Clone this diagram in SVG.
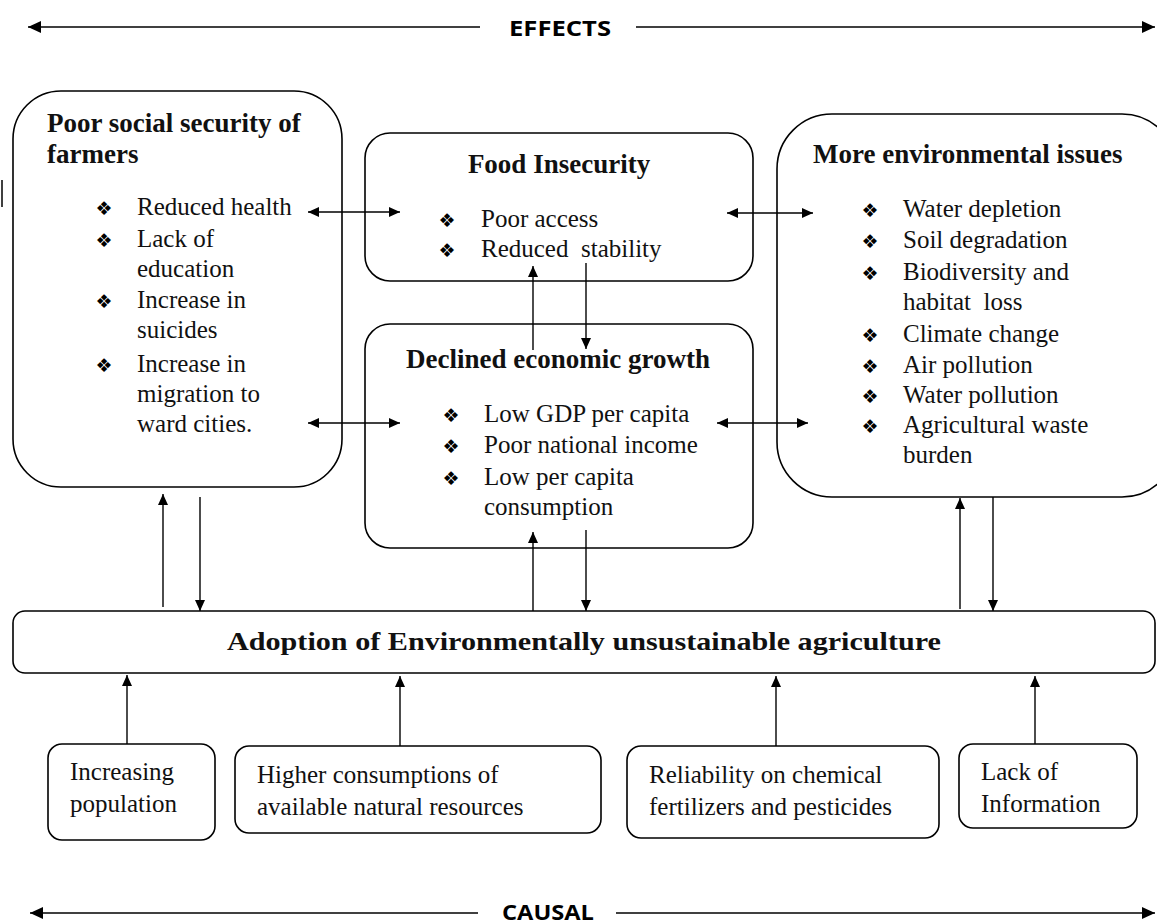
<svg xmlns="http://www.w3.org/2000/svg" width="1157" height="922" viewBox="0 0 1157 922">
<defs>
<marker id="ah" markerUnits="userSpaceOnUse" markerWidth="12" markerHeight="10" refX="11" refY="5" orient="auto-start-reverse"><path d="M0,0 L11,5 L0,10 z" fill="#000"/></marker>
<marker id="big" markerUnits="userSpaceOnUse" markerWidth="14" markerHeight="12" refX="13" refY="6" orient="auto-start-reverse"><path d="M0,0 L13,6 L0,12 z" fill="#000"/></marker>
<style>
.box{fill:#fff;stroke:#000;stroke-width:1.6}
.t{font-family:"Liberation Serif","Times New Roman",serif;font-size:25px;fill:#111}
.h{font-family:"Liberation Serif","Times New Roman",serif;font-size:27px;font-weight:bold;fill:#111}
.b{font-family:"DejaVu Sans",sans-serif;font-size:19px;fill:#000;text-anchor:middle}
.ax{font-family:"Open Sans","Liberation Sans",sans-serif;font-size:22px;font-weight:bold;fill:#000}
.c line{stroke:#000;stroke-width:1.4;fill:none}
.pre{white-space:pre}
</style>
</defs>
<rect width="1157" height="922" fill="#fff"/>
<g id="effects-axis">
<line x1="28" y1="27" x2="480" y2="27" stroke="#000" stroke-width="1.6" marker-start="url(#big)"/>
<line x1="636" y1="27" x2="1155" y2="27" stroke="#000" stroke-width="1.6" marker-end="url(#big)"/>
<text class="ax" x="509" y="36" textLength="102" lengthAdjust="spacingAndGlyphs">EFFECTS</text>
</g>
<line x1="2" y1="180" x2="2" y2="207" stroke="#000" stroke-width="1.5"/>
<g id="social">
<rect class="box" x="13" y="91" width="329" height="396" rx="48"/>
<text class="h" x="47" y="132">Poor social security of</text>
<text class="h" x="47" y="163">farmers</text>
<text class="b" x="104" y="215">❖</text><text class="t" x="137" y="215">Reduced health</text>
<text class="b" x="104" y="247">❖</text><text class="t" x="137" y="247">Lack of</text>
<text class="t" x="137" y="277">education</text>
<text class="b" x="104" y="308">❖</text><text class="t" x="137" y="308">Increase in</text>
<text class="t" x="137" y="338">suicides</text>
<text class="b" x="104" y="372">❖</text><text class="t" x="137" y="372">Increase in</text>
<text class="t" x="137" y="402">migration to</text>
<text class="t" x="137" y="432">ward cities.</text>
</g>
<g id="food">
<rect class="box" x="365" y="133" width="388" height="148" rx="25"/>
<text class="h" x="559" y="173" text-anchor="middle">Food Insecurity</text>
<text class="b" x="447" y="227">❖</text><text class="t" x="481" y="227">Poor access</text>
<text class="b" x="447" y="257">❖</text><text class="t pre" x="481" y="257">Reduced  stability</text>
</g>
<g id="economic">
<rect class="box" x="365" y="324" width="388" height="224" rx="25"/>
<text class="h" x="558" y="368" text-anchor="middle">Declined economic growth</text>
<text class="b" x="451" y="422">❖</text><text class="t" x="484" y="422">Low GDP per capita</text>
<text class="b" x="451" y="453">❖</text><text class="t" x="484" y="453">Poor national income</text>
<text class="b" x="451" y="485">❖</text><text class="t" x="484" y="485">Low per capita</text>
<text class="t" x="484" y="515">consumption</text>
</g>
<g id="environment">
<rect class="box" x="777" y="114" width="400" height="383" rx="55"/>
<text class="h" x="813" y="163">More environmental issues</text>
<text class="b" x="870" y="217">❖</text><text class="t" x="903" y="217">Water depletion</text>
<text class="b" x="870" y="248">❖</text><text class="t" x="903" y="248">Soil degradation</text>
<text class="b" x="870" y="280">❖</text><text class="t" x="903" y="280">Biodiversity and</text>
<text class="t pre" x="903" y="310">habitat  loss</text>
<text class="b" x="870" y="342">❖</text><text class="t" x="903" y="342">Climate change</text>
<text class="b" x="870" y="373">❖</text><text class="t" x="903" y="373">Air pollution</text>
<text class="b" x="870" y="403">❖</text><text class="t" x="903" y="403">Water pollution</text>
<text class="b" x="870" y="433">❖</text><text class="t" x="903" y="433">Agricultural waste</text>
<text class="t" x="903" y="463">burden</text>
</g>
<g id="adoption">
<rect class="box" x="13" y="611" width="1142" height="62" rx="12"/>
<text class="h" x="227" y="650" style="font-size:26px" textLength="714" lengthAdjust="spacingAndGlyphs">Adoption of Environmentally unsustainable agriculture</text>
</g>
<g id="population">
<rect class="box" x="48" y="744" width="167" height="96" rx="14"/>
<text class="t" x="70" y="780">Increasing</text>
<text class="t" x="70" y="812">population</text>
</g>
<g id="consumption">
<rect class="box" x="235" y="746" width="366" height="87" rx="14"/>
<text class="t" x="257" y="783">Higher consumptions of</text>
<text class="t" x="257" y="815">available natural resources</text>
</g>
<g id="chemicals">
<rect class="box" x="627" y="746" width="312" height="92" rx="14"/>
<text class="t" x="649" y="783">Reliability on chemical</text>
<text class="t" x="649" y="815">fertilizers and pesticides</text>
</g>
<g id="information">
<rect class="box" x="959" y="744" width="178" height="84" rx="14"/>
<text class="t" x="981" y="780">Lack of</text>
<text class="t" x="981" y="812">Information</text>
</g>
<g id="causal-axis">
<line x1="30" y1="913" x2="478" y2="913" stroke="#000" stroke-width="1.6" marker-start="url(#big)"/>
<line x1="616" y1="913" x2="1155" y2="913" stroke="#000" stroke-width="1.6" marker-end="url(#big)"/>
<text class="ax" x="502" y="920" textLength="92" lengthAdjust="spacingAndGlyphs">CAUSAL</text>
</g>
<g id="connectors" class="c">
<line x1="308" y1="212" x2="400" y2="212" marker-start="url(#ah)" marker-end="url(#ah)"/>
<line x1="308" y1="423" x2="400" y2="423" marker-start="url(#ah)" marker-end="url(#ah)"/>
<line x1="727" y1="213" x2="813" y2="213" marker-start="url(#ah)" marker-end="url(#ah)"/>
<line x1="717" y1="423" x2="808" y2="423" marker-start="url(#ah)" marker-end="url(#ah)"/>
<line x1="533" y1="350" x2="533" y2="266" marker-end="url(#ah)"/>
<line x1="586" y1="263" x2="586" y2="349" marker-end="url(#ah)"/>
<line x1="163" y1="607" x2="163" y2="494" marker-end="url(#ah)"/>
<line x1="200" y1="497" x2="200" y2="611" marker-end="url(#ah)"/>
<line x1="533" y1="611" x2="533" y2="532" marker-end="url(#ah)"/>
<line x1="586" y1="530" x2="586" y2="611" marker-end="url(#ah)"/>
<line x1="960" y1="609" x2="960" y2="498" marker-end="url(#ah)"/>
<line x1="993" y1="497" x2="993" y2="611" marker-end="url(#ah)"/>
<line x1="127" y1="744" x2="127" y2="675" marker-end="url(#ah)"/>
<line x1="400" y1="746" x2="400" y2="676" marker-end="url(#ah)"/>
<line x1="776" y1="746" x2="776" y2="676" marker-end="url(#ah)"/>
<line x1="1035" y1="744" x2="1035" y2="676" marker-end="url(#ah)"/>
</g>
</svg>
